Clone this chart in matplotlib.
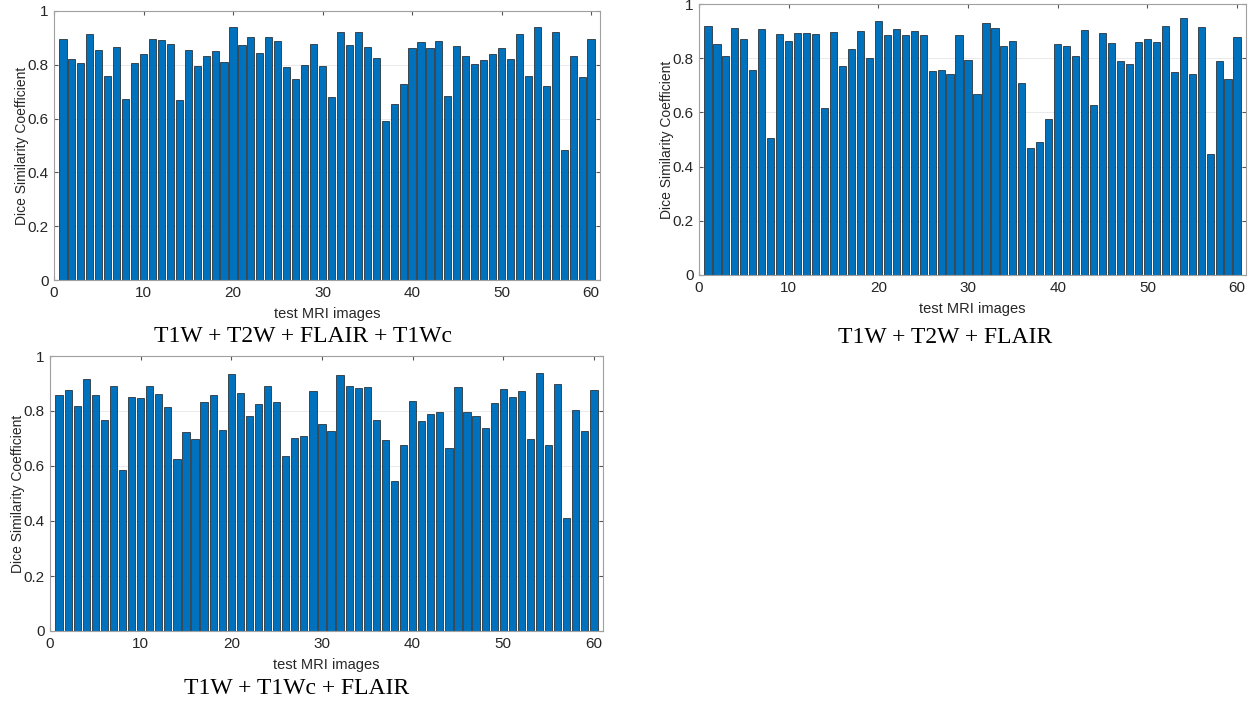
import matplotlib.pyplot as plt
import numpy as np

# Dice similarity per test image
dice_all4 = [0.895, 0.823, 0.808, 0.916, 0.855, 0.757, 0.866, 0.672, 0.805, 0.840,
             0.897, 0.893, 0.879, 0.668, 0.856, 0.796, 0.834, 0.853, 0.810, 0.942,
             0.874, 0.905, 0.843, 0.905, 0.890, 0.792, 0.747, 0.799, 0.877, 0.797,
             0.682, 0.921, 0.875, 0.922, 0.867, 0.824, 0.592, 0.654, 0.730, 0.864,
             0.884, 0.862, 0.890, 0.685, 0.869, 0.834, 0.804, 0.817, 0.840, 0.864,
             0.823, 0.916, 0.757, 0.939, 0.722, 0.921, 0.483, 0.834, 0.753, 0.896]
dice_t1_t2_flair = [0.920, 0.854, 0.808, 0.913, 0.872, 0.756, 0.909, 0.504, 0.889, 0.862,
                    0.894, 0.894, 0.891, 0.618, 0.897, 0.773, 0.834, 0.899, 0.802, 0.937,
                    0.887, 0.908, 0.886, 0.902, 0.886, 0.754, 0.758, 0.742, 0.886, 0.794,
                    0.668, 0.929, 0.912, 0.844, 0.865, 0.709, 0.467, 0.491, 0.575, 0.851,
                    0.844, 0.808, 0.905, 0.627, 0.894, 0.855, 0.789, 0.778, 0.861, 0.871,
                    0.861, 0.918, 0.749, 0.950, 0.742, 0.915, 0.448, 0.789, 0.725, 0.877]
dice_t1_t1c_flair = [0.858, 0.876, 0.818, 0.916, 0.858, 0.769, 0.892, 0.584, 0.850, 0.848,
                     0.892, 0.862, 0.813, 0.625, 0.722, 0.698, 0.831, 0.859, 0.731, 0.936,
                     0.867, 0.782, 0.825, 0.890, 0.833, 0.636, 0.703, 0.709, 0.874, 0.752,
                     0.728, 0.931, 0.892, 0.882, 0.886, 0.766, 0.694, 0.545, 0.675, 0.836,
                     0.762, 0.789, 0.795, 0.667, 0.886, 0.795, 0.783, 0.740, 0.830, 0.881,
                     0.850, 0.873, 0.700, 0.939, 0.677, 0.899, 0.410, 0.802, 0.729, 0.875]
captions = ['T1W + T2W + FLAIR + T1Wc', 'T1W + T2W + FLAIR', 'T1W + T1Wc + FLAIR']

W, H = 1257, 702
plt.rcParams['font.family'] = ['Liberation Sans', 'DejaVu Sans']
fig = plt.figure(figsize=(W / 100, H / 100), dpi=100)


def px_axes(left, top, right, bottom):
    # pixel box -> figure fraction
    return fig.add_axes([left / W, 1 - bottom / H, (right - left) / W, (bottom - top) / H])


def dice_panel(ax, vals):
    x = np.arange(1, len(vals) + 1)
    ax.bar(x, vals, width=0.8, color='#0072BD', edgecolor='#1a1a1a', linewidth=0.5, zorder=2)
    ax.set_xlim(0, 61)
    ax.set_ylim(0, 1)
    ax.set_xticks(range(0, 61, 10))
    ax.set_yticks(np.arange(0, 1.01, 0.2))
    ax.set_yticklabels(['0', '0.2', '0.4', '0.6', '0.8', '1'])
    ax.grid(axis='y', color='#e6e6e6', linewidth=0.6, zorder=0)
    ax.tick_params(direction='in', top=True, right=True, labelsize=11, length=3,
                   color='#555555', labelcolor='#262626', pad=4)
    for s in ax.spines.values():
        s.set_color('#a0a0a0')
        s.set_linewidth(0.8)
    ax.set_xlabel('test MRI images', fontsize=10.5, color='#262626', labelpad=5)
    ax.set_ylabel('Dice Similarity Coefficient', fontsize=10, color='#262626', labelpad=-1)


ax1 = px_axes(54, 11, 600, 280)
ax2 = px_axes(699, 4, 1246, 275)
ax3 = px_axes(50, 356, 603, 631)
dice_panel(ax1, dice_all4)
dice_panel(ax2, dice_t1_t2_flair)
dice_panel(ax3, dice_t1_t1c_flair)

cap_pos = [(303, 336), (945, 338), (297, 689)]
for (cx, cy), txt in zip(cap_pos, captions):
    fig.text(cx / W, 1 - cy / H, txt, ha='center', va='center', fontsize=17,
             family=['Liberation Serif', 'DejaVu Serif'], color='black')

fig.savefig('out.png', dpi=100)
